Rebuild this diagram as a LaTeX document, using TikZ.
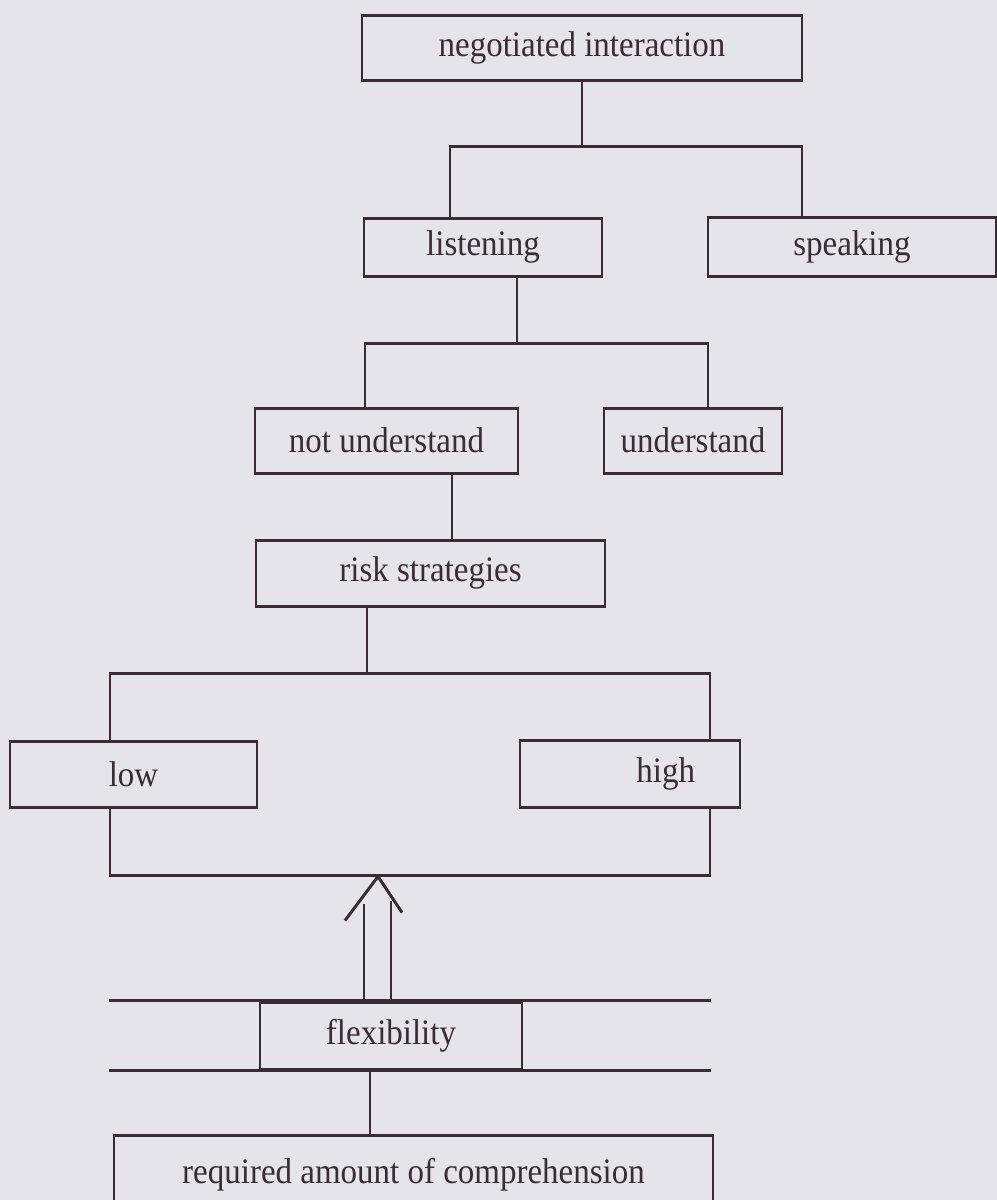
\documentclass[tikz,border=0pt]{standalone}
\usepackage{fontspec}
\setmainfont{Liberation Serif}[FakeStretch=0.92]
\usetikzlibrary{positioning}
\usetikzlibrary{calc}
\definecolor{paper}{RGB}{229,228,233}
\definecolor{ink}{RGB}{55,45,51}
\tikzset{ln/.style={draw=ink, line width=0.85pt}}
\tikzset{blk/.style={ln, fill=paper, inner sep=0pt, text=ink, font=\fontsize{10.2pt}{12pt}\selectfont}}

\begin{document}
\begin{tikzpicture}[on grid]
        \useasboundingbox (0,0) rectangle (9.97,-12);
        \fill[paper] (0,0) rectangle (9.97,-12);
        \clip (0,0) rectangle (9.97,-12);

        \node[blk, minimum width=4.40cm, minimum height=6.5mm] (ni) at (5.82,-0.475) {negotiated interaction};
        \node[blk, minimum width=2.38cm, minimum height=5.8mm, below left=1.995 and 0.99 of ni] (lis) {listening};
        \node[blk, minimum width=2.88cm, minimum height=5.9mm, right=3.69 of lis] (spk) {speaking};

        \node[blk, minimum width=2.63cm, minimum height=6.5mm, below left=1.935 and 0.965 of lis] (nu) {not understand};
        \node[blk, minimum width=1.78cm, minimum height=6.5mm, right=3.065 of nu] (und) {understand};
        \node[blk, minimum width=3.49cm, minimum height=6.6mm, below right=1.325 and 0.44 of nu] (rs) {risk strategies};

        \node[blk, minimum width=6cm, minimum height=2.02cm, below left=2.01 and 0.205 of rs] (band) {};
        \node[blk, minimum width=2.47cm, minimum height=6.6mm, left=2.765 of band] (low) {low};
        \node[blk, text width=1.3cm, align=right, inner xsep=4.5mm, minimum height=6.7mm, right=2.2 of band] (high) {high};

        \node[blk, minimum width=2.62cm, minimum height=6.7mm, below left=2.615 and 0.19 of band] (flex) {flexibility};
        \node[blk, minimum width=5.99cm, minimum height=8mm, below right=1.395 and 0.225 of flex] (req) {required amount of comprehension};

        \draw[ln] (ni.south) -- ++(0,-0.65) coordinate (b1);
        \draw[ln] ([xshift=-3.3mm]lis.north) |- (b1) -| ([xshift=-5mm]spk.north);

        \draw[ln] ([xshift=3.4mm]lis.south) -- ++(0,-0.66) coordinate (b2);
        \draw[ln] ([xshift=-2.15mm]nu.north) |- (b2) -| ([xshift=1.5mm]und.north);

        \draw[ln] ([xshift=6.55mm]nu.south) -- ([xshift=6.55mm]nu.south |- rs.north);
        \draw[ln] ([xshift=-6.35mm]rs.south) -- ([xshift=-6.35mm]rs.south |- band.north);

        \draw[ln] ([xshift=-15mm]flex.north west) -- ([xshift=18.8mm]flex.north east);
        \draw[ln] ([xshift=-15mm]flex.south west) -- ([xshift=18.8mm]flex.south east);
        \draw[ln] ([xshift=-2.1mm]flex.south) -- ([xshift=-2.1mm]flex.south |- req.north);

        \coordinate (tip) at ([xshift=-3.2mm]band.south);
        \draw[ln] ([xshift=-2.7mm]flex.north) -- ++(0,0.97);
        \draw[ln] (flex.north) -- ++(0,1.0);
        \draw[ln] ($(tip)+(-0.33,-0.44)$) -- (tip) -- ++(0.24,-0.36);
    \end{tikzpicture}
\end{document}
